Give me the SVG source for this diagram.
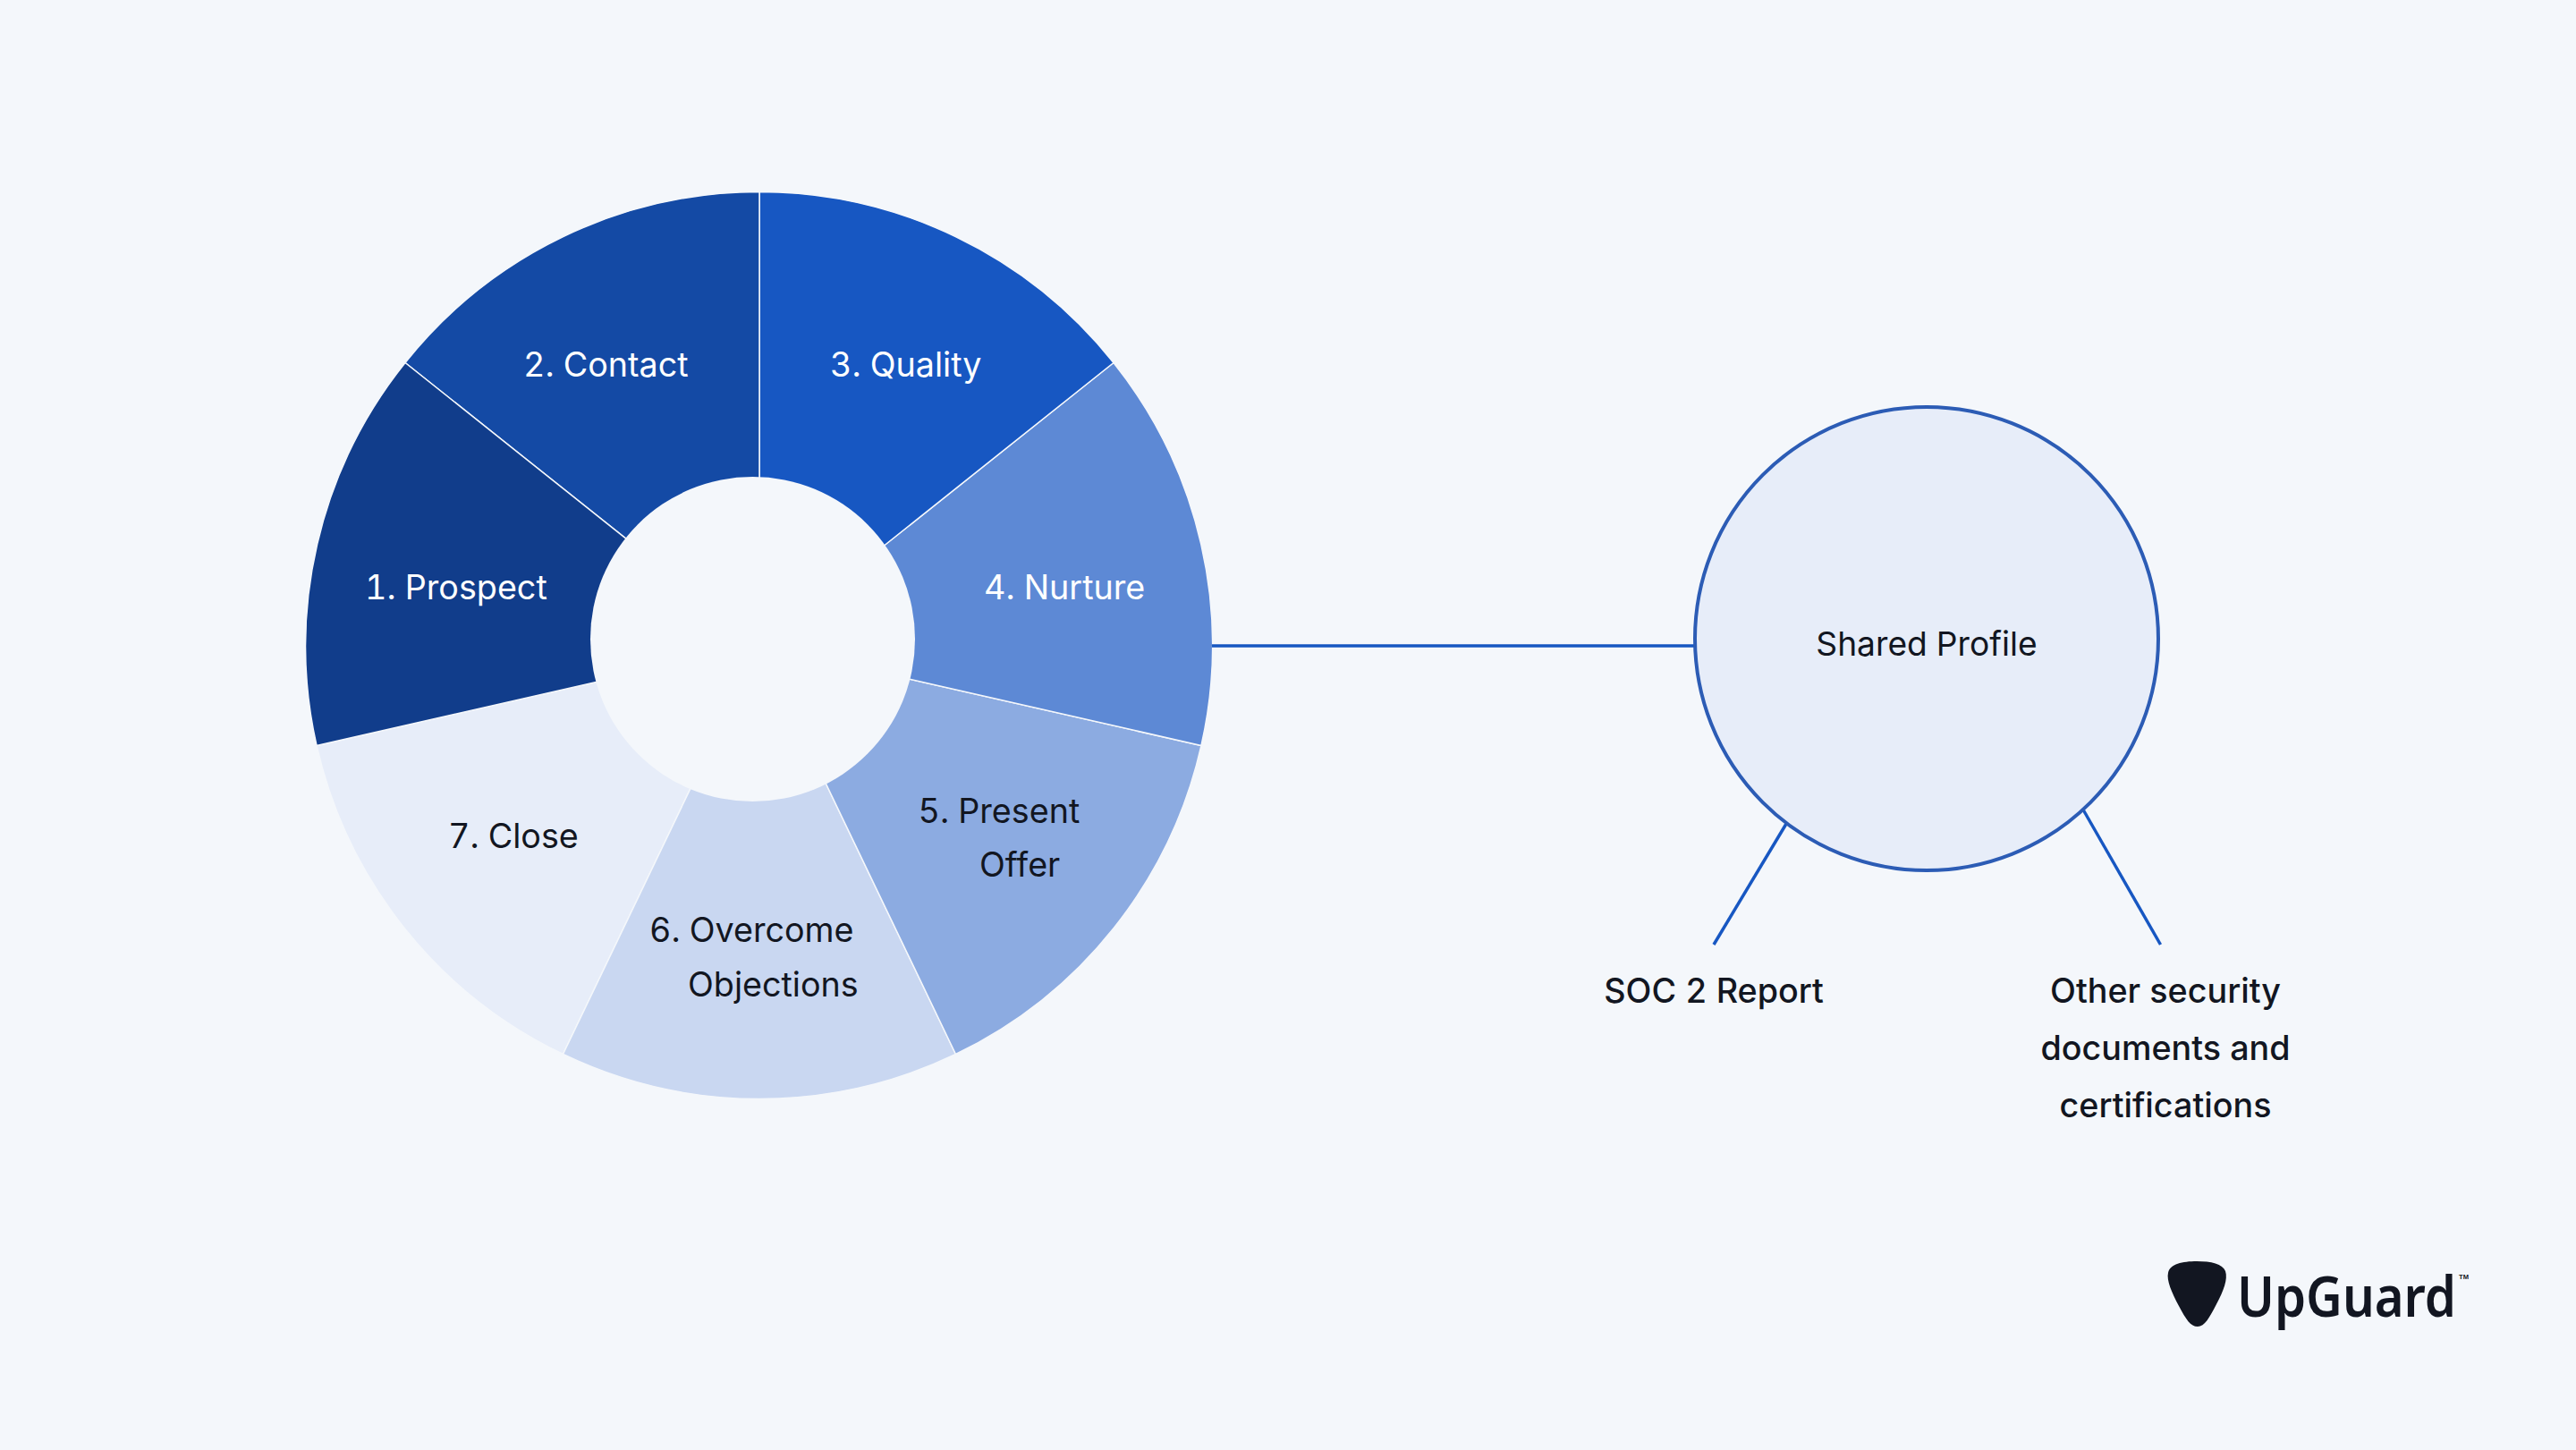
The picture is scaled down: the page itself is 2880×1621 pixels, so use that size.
<svg xmlns="http://www.w3.org/2000/svg" width="2880" height="1621" viewBox="0 0 2880 1621">
<style>
.seg{stroke:#f4f7fb;stroke-width:1.5}
.lab{font-family:Inter,"Liberation Sans",sans-serif;font-size:37.700px;fill:#121621;font-variant-numeric:tabular-nums}
.w{fill:#fff}
.con{stroke:#1757c2;stroke-width:3.5;fill:none}
</style>
<rect width="2880" height="1621" fill="#f4f7fb"/>
<g id="wheel">
<g id="seg7"><path class="seg" d="M849 721L354 833.500A506.500 506.500 0 0 0 629.500 1178.500Z" fill="#e7edf9"/></g>
<g id="seg6"><path class="seg" d="M849 721L629.500 1178.500A506.500 506.500 0 0 0 1068.500 1178.500Z" fill="#c9d7f1"/></g>
<g id="seg5"><path class="seg" d="M849 721L1068.500 1178.500A506.500 506.500 0 0 0 1343 833.500Z" fill="#8cabe1"/></g>
<g id="seg4"><path class="seg" d="M849 721L1343 833.500A506.500 506.500 0 0 0 1245 405.500Z" fill="#5d89d5"/></g>
<g id="seg3"><path class="seg" d="M849 721L1245 405.500A506.500 506.500 0 0 0 849 214.500Z" fill="#1757c2"/></g>
<g id="seg2"><path class="seg" d="M849 721L849 214.500A506.500 506.500 0 0 0 453 405.500Z" fill="#144aa5"/></g>
<g id="seg1"><path class="seg" d="M849 721L453 405.500A506.500 506.500 0 0 0 354 833.500Z" fill="#113d8b"/></g>
<circle id="hole" cx="841.500" cy="714.500" r="181.500" fill="#f4f7fb"/>
<text class="lab w" x="408" y="670">1. Prospect</text>
<text class="lab w" x="585" y="421">2. Contact</text>
<text class="lab w" x="928" y="421">3. Quality</text>
<text class="lab w" x="1100" y="670">4. Nurture</text>
<text class="lab" x="1026.500" y="920">5. Present</text>
<text class="lab" x="1095" y="980">Offer</text>
<text class="lab" x="726" y="1053">6. Overcome</text>
<text class="lab" x="769" y="1113.500">Objections</text>
<text class="lab" x="501" y="948">7. Close</text>
</g>
<g id="connectors">
<path class="con" d="M1355 722H1895"/>
<path class="con" d="M1997 921L1916 1056"/>
<path class="con" d="M2329.500 906L2415.500 1056"/>
</g>
<g id="shared">
<circle cx="2154" cy="714" r="259" fill="#e7edf9" stroke="#2c5cb5" stroke-width="4"/>
<text class="lab" x="2154" y="733" text-anchor="middle" style="font-size:37.200px">Shared Profile</text>
</g>
<g id="soc"><text class="lab" x="1916" y="1121" text-anchor="middle" font-weight="500">SOC 2 Report</text></g>
<g id="other">
<text class="lab" x="2421" y="1121" text-anchor="middle" font-weight="500">Other security</text>
<text class="lab" x="2421" y="1185" text-anchor="middle" font-weight="500">documents and</text>
<text class="lab" x="2421" y="1249" text-anchor="middle" font-weight="500">certifications</text>
</g>
<g id="logo">
<path d="M2456 1410C2472 1410 2485 1413 2488 1421C2491 1430 2486 1443 2478 1458C2470 1473 2465 1483 2457 1483C2449 1483 2444 1475 2436 1460C2428 1445 2422 1431 2424 1423C2426 1413 2440 1410 2456 1410Z" fill="#121621"/>
<text x="2501" y="1472" font-family="Noto Sans,sans-serif" font-size="64" font-weight="600" fill="#121621" textLength="245" lengthAdjust="spacingAndGlyphs">UpGuard</text>
<text x="2749" y="1430" font-family="Liberation Sans,sans-serif" font-size="8" font-weight="700" fill="#121621" textLength="11" lengthAdjust="spacingAndGlyphs">TM</text>
</g>
</svg>
